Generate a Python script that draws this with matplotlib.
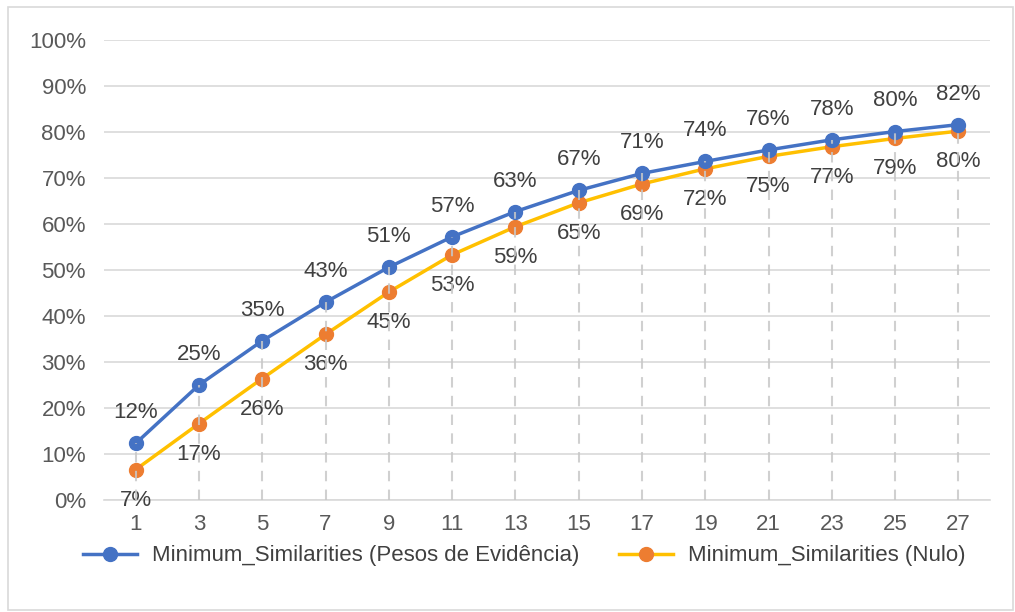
import matplotlib.pyplot as plt
import numpy as np
from matplotlib.patches import Rectangle

plt.rcParams['font.family'] = ['Liberation Sans', 'DejaVu Sans']

cats = [1, 3, 5, 7, 9, 11, 13, 15, 17, 19, 21, 23, 25, 27]
pesos = [12.3, 25.0, 34.6, 43.0, 50.6, 57.2, 62.7, 67.3, 71.0, 73.6, 76.1, 78.3, 80.1, 81.6]
nulo = [6.6, 16.6, 26.4, 36.0, 45.2, 53.3, 59.4, 64.6, 68.7, 72.0, 74.7, 76.8, 78.6, 80.2]
yticks = [0, 10, 20, 30, 40, 50, 60, 70, 80, 90, 100]

fig = plt.figure(figsize=(10.15, 6.12), dpi=100)
fig.patches.append(Rectangle((8/1015, 2/612), 1005/1015, 603/612, transform=fig.transFigure,
                             fill=False, edgecolor='#d9d9d9', linewidth=1.2))
ax = fig.add_axes([104/1015, 1 - 500/612, 886/1015, 460/612])

x = np.arange(len(cats))
ax.plot(x, pesos, color='#4472C4', lw=2.5, marker='o', ms=10, zorder=4,
        label='Minimum_Similarities (Pesos de Evidência)')
ax.plot(x, nulo, color='#FFC000', lw=2.5, marker='o', ms=10, mfc='#ED7D31', mec='#ED7D31',
        zorder=3, label='Minimum_Similarities (Nulo)')
ax.vlines(x, 0, np.maximum(pesos, nulo), colors='#c8c8c8', linestyles=(0, (5, 4)), lw=1.5,
          zorder=5, alpha=0.85)

for xi, p, n in zip(x, pesos, nulo):
    ax.annotate(f'{round(p)}%', (xi, p), xytext=(0, 22), textcoords='offset points',
                ha='center', va='center', fontsize=16, color='#404040')
    ax.annotate(f'{round(n)}%', (xi, n), xytext=(0, -22), textcoords='offset points',
                ha='center', va='center', fontsize=16, color='#404040')

ax.set_xlim(-0.5, len(cats) - 0.5)
ax.set_ylim(0, 100)
ax.set_yticks(yticks)
ax.set_yticklabels([f'{t}%' for t in yticks])
ax.set_xticks(x)
ax.set_xticklabels([str(c) for c in cats])
ax.tick_params(length=0, labelsize=16, colors='#595959', pad=10)
ax.tick_params(axis='y', pad=13)
ax.grid(axis='y', color='#d9d9d9', lw=1.2)
ax.set_axisbelow(True)
for s in ['top', 'right', 'left']:
    ax.spines[s].set_visible(False)
ax.spines['bottom'].set_color('#d9d9d9')
ax.spines['bottom'].set_linewidth(1.2)

fig.legend(loc='center', bbox_to_anchor=(0.5163, 1 - 556/612), ncol=2, frameon=False,
           fontsize=16, handlelength=2.45, handletextpad=0.65, columnspacing=1.8,
           labelcolor='#404040')

plt.savefig('out.png', dpi=100)
